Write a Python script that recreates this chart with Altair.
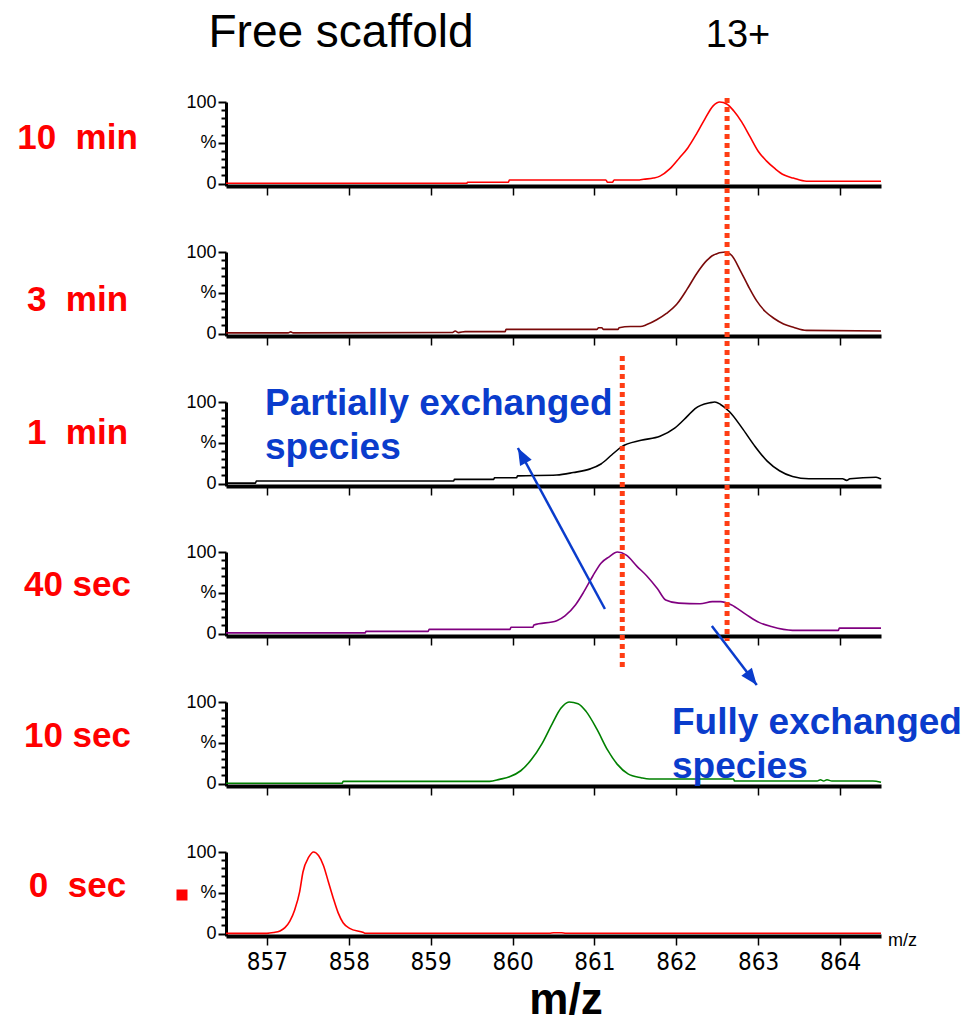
import altair as alt
import pandas as pd

# ---- spectra: m/z positions and relative intensity (%) ----
mz_10min = [856.50, 859.44, 859.45, 859.95, 859.96, 861.14, 861.16, 861.22, 861.24, 861.55,
            861.60, 861.72, 861.80, 861.92, 862.04, 862.14, 862.25, 862.35, 862.45, 862.53,
            862.62, 862.70, 862.80, 862.90, 863.00, 863.10, 863.21, 863.31, 863.43, 863.59, 864.50]
pct_10min = [0.3, 0.3, 1.6, 1.6, 4.4, 4.4, 1.6, 1.6, 4.4, 4.4,
             5.2, 6.7, 9.1, 17.9, 31.7, 43.7, 61.5, 79.4, 95.2, 100,
             97.2, 89.3, 75.4, 57.5, 39.7, 27.8, 17.9, 10.7, 6.7, 2.8, 2.8]

mz_3min = [856.50, 857.26, 857.29, 857.32, 859.26, 859.30, 859.34, 859.42, 859.91, 859.92,
           861.03, 861.05, 861.09, 861.11, 861.29, 861.30, 861.44, 861.56, 861.64, 861.76,
           861.88, 862.01, 862.13, 862.25, 862.37, 862.45, 862.60, 862.68, 862.78, 862.88,
           862.98, 863.09, 863.19, 863.31, 863.43, 863.59, 864.50]
pct_3min = [0.8, 0.8, 2.0, 0.8, 1.2, 3.1, 1.2, 2.4, 2.4, 5.1,
            5.1, 7.1, 7.1, 5.1, 5.1, 7.1, 8.6, 8.6, 11.0, 16.9,
            24.7, 36.5, 54.1, 73.7, 89.4, 96.1, 100, 95.3, 77.6, 58.0,
            40.4, 26.7, 18.8, 11.8, 7.8, 3.9, 3.1]

mz_1min = [856.50, 856.86, 856.87, 859.28, 859.29, 859.77, 859.78, 860.05, 860.06, 860.54,
           860.74, 860.95, 861.08, 861.21, 861.33, 861.57, 861.80, 861.98, 862.13, 862.23,
           862.41, 862.47, 862.54, 862.65, 862.80, 862.95, 863.11, 863.26, 863.42, 863.62,
           864.03, 864.08, 864.12, 864.44, 864.50]
pct_1min = [0.5, 0.5, 3.1, 3.1, 5.1, 5.1, 7.1, 7.1, 9.4, 10.5,
            13.5, 18.0, 24.0, 35.0, 45.0, 53.0, 58.0, 68.0, 82.0, 92.0,
            99.0, 100, 97.0, 88.0, 68.6, 47.1, 27.5, 15.7, 8.6, 5.9,
            5.9, 3.9, 5.9, 7.8, 5.5]

mz_40sec = [856.50, 858.20, 858.21, 858.97, 858.98, 859.97, 859.98, 860.25, 860.26, 860.54,
            860.64, 860.77, 860.87, 860.98, 861.08, 861.18, 861.28, 861.39, 861.52, 861.64,
            861.77, 861.87, 862.03, 862.29, 862.44, 862.54, 862.67, 862.85, 863.01, 863.16,
            863.42, 863.98, 863.99, 864.50]
pct_40sec = [0.8, 0.8, 2.7, 2.7, 5.1, 5.1, 7.8, 7.8, 10.6, 15.7,
             21.6, 35.3, 51.0, 70.6, 86.3, 94.1, 100, 96.1, 82.4, 70.6,
             54.9, 41.2, 37.3, 36.5, 39.2, 39.2, 35.3, 23.5, 13.7, 8.6,
             3.9, 3.9, 6.7, 6.7]

mz_10sec = [856.50, 857.92, 857.93, 859.72, 859.84, 859.97, 860.10, 860.23, 860.36, 860.49,
            860.59, 860.69, 860.80, 860.90, 861.03, 861.16, 861.28, 861.41, 861.57, 861.67,
            862.70, 862.71, 863.72, 863.76, 863.80, 863.84, 863.90, 864.40, 864.50]
pct_10sec = [0.4, 0.4, 2.7, 2.7, 5.1, 8.6, 15.7, 29.4, 49.0, 74.5,
             92.2, 100, 98.0, 88.2, 66.7, 41.2, 23.5, 11.8, 7.1, 5.5,
             5.5, 3.1, 3.1, 4.7, 3.1, 4.7, 3.1, 3.1, 1.5]

mz_0sec = [856.50, 857.00, 857.08, 857.16, 857.22, 857.28, 857.34, 857.40, 857.44, 857.51,
           857.57, 857.63, 857.69, 857.75, 857.81, 857.87, 857.93, 858.01, 858.18, 858.20,
           860.45, 860.50, 860.60, 860.65, 864.50]
pct_0sec = [0.2, 0.2, 1.2, 3.2, 7.2, 15.3, 29.3, 51.4, 75.5, 93.6,
            100, 95.6, 83.5, 63.5, 43.4, 25.3, 13.3, 6.4, 1.2, 0.3,
            0.3, 1.0, 1.0, 0.3, 0.3]

# row names (non-breaking space keeps the wide gap in SVG text)
row_labels = ["10\u00a0 min", "3\u00a0 min", "1\u00a0 min", "40 sec", "10 sec", "0\u00a0 sec"]
row_colors = ["#ff0000", "#7a0a0a", "#000000", "#800080", "#008000", "#ff0000"]
row_label_baseline = [46.5, 58.5, 41.5, 43.5, 44.5, 44.5]
spectra = [(mz_10min, pct_10min), (mz_3min, pct_3min), (mz_1min, pct_1min),
           (mz_40sec, pct_40sec), (mz_10sec, pct_10sec), (mz_0sec, pct_0sec)]

mz_ticks = [857, 858, 859, 860, 861, 862, 863, 864]

# dotted guide lines (drawn in the 40 sec panel's data units)
guide_mz = [862.62, 861.34]
guide_top = [656.7, 340.3]
guide_bottom = [-9.1, -45.9]

# annotation arrows (40 sec panel data units)
arrow_mz_from = [861.128, 862.434]
arrow_pct_from = [30.1, 9.3]
arrow_mz_to = [860.065, 862.983]
arrow_pct_to = [227.5, -63.1]
arrow_angle = [331.6, 142.7]

BLUE = "#0a3ccc"
GUIDE = "#ff3d14"
W, H = 655, 84

XS = alt.Scale(domain=[856.5, 864.5], nice=False, zero=False)
YS = alt.Scale(domain=[-3, 100], nice=False, zero=False)


def x_axis(show_labels):
    return alt.Axis(values=mz_ticks, labels=show_labels, title=None, grid=False,
                    domainWidth=4, domainColor="black", tickColor="black",
                    tickSize=9, tickWidth=1.5, format="d", labelFlush=False,
                    labelFont="Liberation Sans Narrow, DejaVu Sans Condensed, Liberation Sans",
                    labelFontSize=24, labelColor="black", labelPadding=5)


Y_AXIS = alt.Axis(values=list(range(0, 101, 10)),
                  labelExpr="datum.value == 100 ? '100' : datum.value == 50 ? '%' : datum.value == 0 ? '0' : ''",
                  labelOverlap=False, labelFlush=False, title=None, grid=False,
                  domainWidth=3, domainColor="black", tickColor="black", tickWidth=2,
                  tickSize={"condition": {"test": "datum.value % 50 === 0", "value": 8}, "value": 5},
                  labelFont="Liberation Sans", labelFontSize=18, labelColor="black", labelPadding=2)


def one_row(text, **kw):
    return alt.Chart(pd.DataFrame({"t": [text]})).mark_text(**kw).encode(text="t:N")


panels = []
for i, ((mz, pct), label, color, base) in enumerate(
        zip(spectra, row_labels, row_colors, row_label_baseline)):
    last = i == len(spectra) - 1
    df = pd.DataFrame({"mz": mz, "pct": pct})
    line = alt.Chart(df).mark_line(color=color, strokeWidth=1.6, interpolate="monotone").encode(
        x=alt.X("mz:Q", scale=XS, axis=x_axis(last)),
        y=alt.Y("pct:Q", scale=YS, axis=Y_AXIS),
    )
    name = one_row(label, font="Liberation Sans", fontWeight="bold", fontSize=35,
                   color="#ff0000", align="center", baseline="alphabetic").encode(
        x=alt.value(-148.5), y=alt.value(base))
    layers = [line, name]

    if i == 0:
        layers.append(one_row("Free scaffold", font="Liberation Sans", fontSize=46,
                              color="black", align="center", baseline="top").encode(
            x=alt.value(115), y=alt.value(-91)))
        layers.append(one_row("13+", font="Liberation Sans", fontSize=38,
                              color="black", align="center", baseline="top").encode(
            x=alt.value(512), y=alt.value(-85)))
    if i == 2:
        layers.append(one_row("Partially exchanged\nspecies", font="Liberation Sans",
                              fontWeight="bold", fontSize=37, color=BLUE, align="left",
                              baseline="alphabetic", lineBreak="\n", lineHeight=44).encode(
            x=alt.value(39), y=alt.value(13)))
    if i == 3:
        gdf = pd.DataFrame({"mz": guide_mz, "pct": guide_top, "pct2": guide_bottom})
        layers.append(alt.Chart(gdf).mark_rule(color=GUIDE, strokeWidth=5,
                                               strokeDash=[5, 4]).encode(
            x=alt.X("mz:Q", scale=XS, axis=x_axis(False)),
            y=alt.Y("pct:Q", scale=YS, axis=Y_AXIS),
            y2="pct2:Q"))
        adf = pd.DataFrame({"mz": arrow_mz_from, "pct": arrow_pct_from,
                            "mz2": arrow_mz_to, "pct2": arrow_pct_to, "ang": arrow_angle})
        layers.append(alt.Chart(adf).mark_rule(color=BLUE, strokeWidth=2.5).encode(
            x=alt.X("mz:Q", scale=XS, axis=x_axis(False)),
            y=alt.Y("pct:Q", scale=YS, axis=Y_AXIS),
            x2="mz2:Q", y2="pct2:Q"))
        layers.append(alt.Chart(adf).mark_point(
            shape="M0,0L-0.55,1.4L0.55,1.4Z", filled=True, size=576, color=BLUE,
            opacity=1, strokeWidth=0).encode(
            x=alt.X("mz2:Q", scale=XS, axis=x_axis(False)),
            y=alt.Y("pct2:Q", scale=YS, axis=Y_AXIS),
            angle=alt.Angle("ang:Q", scale=None)))
    if i == 4:
        layers.append(one_row("Fully exchanged\nspecies", font="Liberation Sans",
                              fontWeight="bold", fontSize=37, color=BLUE, align="left",
                              baseline="alphabetic", lineBreak="\n", lineHeight=44).encode(
            x=alt.value(446), y=alt.value(32)))
    if last:
        layers.append(one_row("m/z", font="Liberation Sans", fontSize=18, color="black",
                              align="left", baseline="middle").encode(
            x=alt.value(662), y=alt.value(89)))
        layers.append(one_row("m/z", font="Liberation Sans", fontWeight="bold", fontSize=44,
                              color="black", align="center", baseline="middle").encode(
            x=alt.value(340), y=alt.value(149)))
        layers.append(alt.Chart(pd.DataFrame({"k": [0]})).mark_square(
            size=121, color="#ff0000", filled=True, opacity=1).encode(
            x=alt.value(-44), y=alt.value(43)))

    panels.append(alt.layer(*layers).properties(width=W, height=H))

chart = alt.vconcat(*panels, spacing=66, bounds="flush").properties(
    padding={"left": 17, "top": 10, "right": 5, "bottom": 2}
).configure_view(stroke=None)

chart.save("out.html", embed_options={"renderer": "svg", "actions": False})
